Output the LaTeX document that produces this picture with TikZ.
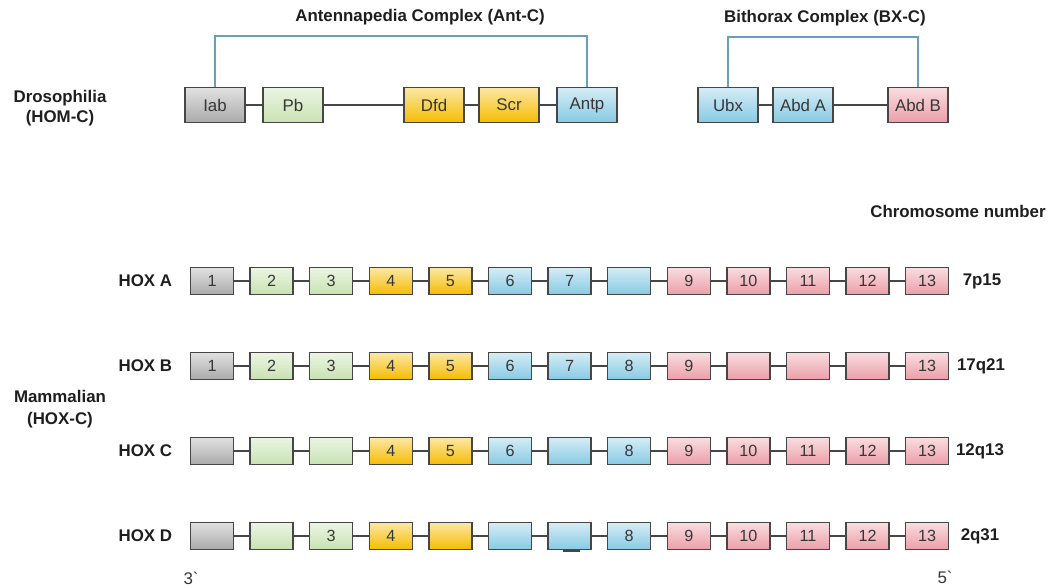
\documentclass[tikz,border=0pt]{standalone}
\usepackage{fontspec}
\setmainfont{Liberation Sans}
\usepackage{xcolor}

\definecolor{boxline}{RGB}{70,70,70}
\definecolor{labeltext}{RGB}{55,55,55}
\definecolor{titletext}{RGB}{30,30,30}
\definecolor{bracketblue}{RGB}{105,160,185}
\definecolor{hoxgray}{RGB}{170,170,170}
\definecolor{hoxgreen}{RGB}{200,226,178}
\definecolor{hoxyellow}{RGB}{245,188,0}
\definecolor{hoxblue}{RGB}{135,202,228}
\definecolor{hoxpink}{RGB}{236,158,168}

\begin{document}
\begin{tikzpicture}[x=0.025cm,y=-0.025cm,
    genecol/.style={top color=#1!35,bottom color=#1},
    gene/.style={draw=boxline,line width=0.9pt,inner sep=0pt,minimum width=1.5cm,
      minimum height=0.875cm,text=labeltext,font=\fontsize{12}{14}\selectfont},
    hox/.style={gene,minimum width=1.075cm,minimum height=0.675cm,
      font=\fontsize{11.5}{13}\selectfont},
    link/.style={draw=boxline,line width=1.2pt},
    bracket/.style={draw=bracketblue,line width=0.8pt},
    title/.style={text=titletext,font=\bfseries\fontsize{12}{14.5}\selectfont}]
  \useasboundingbox (0,0) rectangle (1051,587);

  % Drosophila complex
  \node[title] (antc) at (420,17) {Antennapedia Complex (Ant-C)};
  \node[title] (bxc) at (825,18) {Bithorax Complex (BX-C)};
  \node[title,align=center] (dros) at (60,108) {Drosophilia\\(HOM-C)};
  \node[gene,genecol=hoxgray] (iab) at (215,105) {Iab};
  \node[gene,genecol=hoxgreen] (pb) at (293,105) {Pb};
  \node[gene,genecol=hoxyellow] (dfd) at (434,105) {Dfd};
  \node[gene,genecol=hoxyellow] (scr) at (509,105) {Scr};
  \node[gene,genecol=hoxblue] (antp) at (587,105) {Antp};
  \node[gene,genecol=hoxblue] (ubx) at (728,105) {Ubx};
  \node[gene,genecol=hoxblue] (abda) at (803,105) {Abd A};
  \node[gene,genecol=hoxpink] (abdb) at (918,105) {Abd B};
  \draw[link] (iab) -- (pb);
  \draw[link] (pb) -- (dfd);
  \draw[link] (dfd) -- (scr);
  \draw[link] (scr) -- (antp);
  \draw[link] (ubx) -- (abda);
  \draw[link] (abda) -- (abdb);
  \coordinate (antline) at (0,36);
  \coordinate (bxline) at (0,37);
  \draw[bracket] (iab.north) -- (iab.north |- antline) -| (antp.north);
  \draw[bracket] (ubx.north) -- (ubx.north |- bxline) -| (abdb.north);

  % mammalian clusters
  \node[title] (chrom) at (958,211) {Chromosome number};
  \node[title,align=center] (mamm) at (60,409) {Mammalian\\[1pt](HOX-C)};

  \node[title,anchor=east] (hoxa) at (177,281) {HOX A};
  \foreach \lab/\col [count=\i] in {1/hoxgray,2/hoxgreen,3/hoxgreen,4/hoxyellow,
      5/hoxyellow,6/hoxblue,7/hoxblue,{}/hoxblue,9/hoxpink,10/hoxpink,11/hoxpink,
      12/hoxpink,13/hoxpink}
    \node[hox,genecol=\col] (a\i) at ({212+59.6*(\i-1)},281) {\lab};
  \node[title] (chra) at (982,281) {7p15};

  \node[title,anchor=east] (hoxb) at (177,366) {HOX B};
  \foreach \lab/\col [count=\i] in {1/hoxgray,2/hoxgreen,3/hoxgreen,4/hoxyellow,
      5/hoxyellow,6/hoxblue,7/hoxblue,8/hoxblue,9/hoxpink,{}/hoxpink,{}/hoxpink,
      {}/hoxpink,13/hoxpink}
    \node[hox,genecol=\col] (b\i) at ({212+59.6*(\i-1)},366) {\lab};
  \node[title] (chrb) at (981,366) {17q21};

  \node[title,anchor=east] (hoxc) at (177,451) {HOX C};
  \foreach \lab/\col [count=\i] in {{}/hoxgray,{}/hoxgreen,{}/hoxgreen,4/hoxyellow,
      5/hoxyellow,6/hoxblue,{}/hoxblue,8/hoxblue,9/hoxpink,10/hoxpink,11/hoxpink,
      12/hoxpink,13/hoxpink}
    \node[hox,genecol=\col] (c\i) at ({212+59.6*(\i-1)},451) {\lab};
  \node[title] (chrc) at (980,451) {12q13};

  \node[title,anchor=east] (hoxd) at (177,536) {HOX D};
  \foreach \lab/\col [count=\i] in {{}/hoxgray,{}/hoxgreen,3/hoxgreen,4/hoxyellow,
      {}/hoxyellow,{}/hoxblue,{}/hoxblue,8/hoxblue,9/hoxpink,10/hoxpink,11/hoxpink,
      12/hoxpink,13/hoxpink}
    \node[hox,genecol=\col] (d\i) at ({212+59.6*(\i-1)},536) {\lab};
  \node[title] (chrd) at (980,536) {2q31};

  \foreach \r in {a,b,c,d}
    \foreach \i [count=\j from 2] in {1,...,12}
      \draw[link] (\r\i) -- (\r\j);
  \draw[boxline,line width=2pt] ([xshift=-0.17cm]d7.south) -- ([xshift=0.25cm]d7.south);

  \node[font=\fontsize{12}{14}\selectfont,text=labeltext] (three) at (191,578) {3\textasciigrave};
  \node[font=\fontsize{12}{14}\selectfont,text=labeltext] (five) at (945,577) {5\textasciigrave};
\end{tikzpicture}
\end{document}
